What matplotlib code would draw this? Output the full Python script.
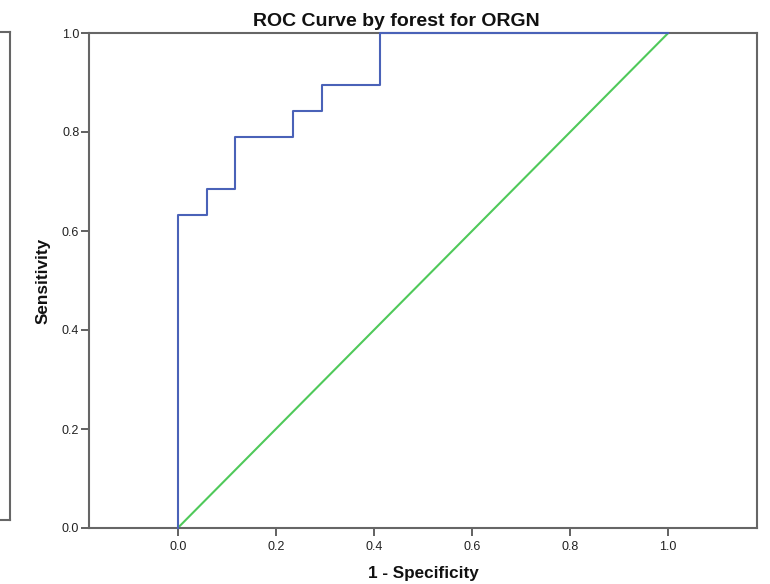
import matplotlib
matplotlib.use("Agg")
import matplotlib.pyplot as plt
from matplotlib.lines import Line2D

plt.rcParams['font.family'] = ['Liberation Sans', 'DejaVu Sans']

# ROC step curve (1 - specificity, sensitivity)
fpr = [0.0, 0.0, 0.0588, 0.0588, 0.1176, 0.1176, 0.2353, 0.2353,
       0.2941, 0.2941, 0.4118, 0.4118, 1.0]
tpr = [0.0, 0.6316, 0.6316, 0.6842, 0.6842, 0.7895, 0.7895, 0.8421,
       0.8421, 0.8947, 0.8947, 1.0, 1.0]
# reference diagonal
ref_x = [0.0, 1.0]
ref_y = [0.0, 1.0]
ticks = [0.0, 0.2, 0.4, 0.6, 0.8, 1.0]
tick_labels = ["0.0", "0.2", "0.4", "0.6", "0.8", "1.0"]

W, H = 770, 584
fig = plt.figure(figsize=(W / 100, H / 100), dpi=100)
ax = fig.add_axes([89 / W, 1 - 528 / H, (757 - 89) / W, (528 - 33) / H])

ax.plot(ref_x, ref_y, color='#4FC95A', lw=1.5, zorder=2)
ax.plot(fpr, tpr, color='#4A62B8', lw=1.5, zorder=3, clip_on=False)

ax.set_xlim(-0.181, 1.181)
ax.set_ylim(0, 1)
ax.set_xticks(ticks)
ax.set_xticklabels(tick_labels)
ax.set_yticks(ticks)
ax.set_yticklabels(tick_labels)

for s in ax.spines.values():
    s.set_color('#666666')
    s.set_linewidth(1.5)
ax.tick_params(direction='out', length=5.5, width=1.3, color='#555555',
               labelsize=9, labelcolor='#222222')
ax.tick_params(axis='x', pad=3.5)
ax.tick_params(axis='y', pad=1.5)

# title and axis labels placed in figure pixels
fig.text(396 / W, 1 - 26.5 / H, "ROC Curve by forest for ORGN",
         fontsize=14, fontweight='bold', color='#111111',
         ha='center', va='baseline')
fig.text(423 / W, 1 - 578 / H, "1 - Specificity", fontsize=12.3,
         fontweight='bold', color='#111111', ha='center', va='baseline')
fig.text(43 / W, 1 - 280.5 / H, "Sensitivity", fontsize=12.3,
         fontweight='bold', color='#111111', ha='center', va='center',
         rotation=90)

# partially visible frame at the left edge
frame = [Line2D([0, 9.5], [H - 32, H - 32]),
         Line2D([9.5, 9.5], [H - 32, H - 520]),
         Line2D([0, 9.5], [H - 520, H - 520])]
for ln in frame:
    ln.set_transform(None)
    ln.set_color('#666666')
    ln.set_linewidth(1.5)
    fig.add_artist(ln)

fig.savefig("out.png", dpi=100, facecolor='white')
